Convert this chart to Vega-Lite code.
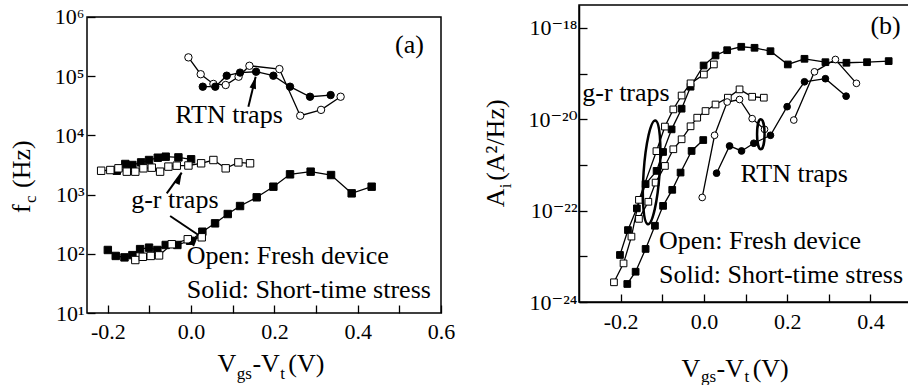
{
  "$schema": "https://vega.github.io/schema/vega-lite/v6.json",
  "background": "white",
  "padding": {"left": 9, "top": 4, "right": 0, "bottom": 0},
  "spacing": 27,
  "resolve": {"scale": {"x": "independent", "y": "independent"}},
  "config": {
    "font": "Liberation Serif",
    "view": {"stroke": "black", "strokeWidth": 1.5},
    "text": {"color": "black", "font": "Liberation Serif, DejaVu Serif"},
    "axis": {
      "labelFont": "Liberation Serif, DejaVu Serif", "labelFontSize": 22, "labelColor": "black",
      "tickSize": -8, "tickColor": "black", "tickWidth": 1.3,
      "domainColor": "black", "domainWidth": 1.5, "grid": false,
      "labelFlush": false, "labelOverlap": false, "labelBound": false
    }
  },
  "datasets": {
    "a_pts": [
      {"s":"rf","trap":"RTN","dev":"Fresh","x":-0.0065,"y":208000},
      {"s":"rf","trap":"RTN","dev":"Fresh","x":0.023,"y":108000},
      {"s":"rf","trap":"RTN","dev":"Fresh","x":0.0535,"y":74000},
      {"s":"rf","trap":"RTN","dev":"Fresh","x":0.083,"y":71000},
      {"s":"rf","trap":"RTN","dev":"Fresh","x":0.114,"y":98000},
      {"s":"rf","trap":"RTN","dev":"Fresh","x":0.140,"y":150000},
      {"s":"rf","trap":"RTN","dev":"Fresh","x":0.212,"y":132000},
      {"s":"rf","trap":"RTN","dev":"Fresh","x":0.262,"y":21500},
      {"s":"rf","trap":"RTN","dev":"Fresh","x":0.312,"y":27000},
      {"s":"rf","trap":"RTN","dev":"Fresh","x":0.359,"y":45000},
      {"s":"rs","trap":"RTN","dev":"Stress","x":0.028,"y":66500},
      {"s":"rs","trap":"RTN","dev":"Stress","x":0.058,"y":66500},
      {"s":"rs","trap":"RTN","dev":"Stress","x":0.0855,"y":102000},
      {"s":"rs","trap":"RTN","dev":"Stress","x":0.1175,"y":115000},
      {"s":"rs","trap":"RTN","dev":"Stress","x":0.156,"y":119000},
      {"s":"rs","trap":"RTN","dev":"Stress","x":0.1975,"y":102000},
      {"s":"rs","trap":"RTN","dev":"Stress","x":0.2375,"y":66500},
      {"s":"rs","trap":"RTN","dev":"Stress","x":0.2855,"y":45000},
      {"s":"rs","trap":"RTN","dev":"Stress","x":0.335,"y":48000},
      {"s":"g1s","trap":"g-r","dev":"Stress","x":-0.1785,"y":2530},
      {"s":"g1s","trap":"g-r","dev":"Stress","x":-0.158,"y":3290},
      {"s":"g1s","trap":"g-r","dev":"Stress","x":-0.141,"y":3160},
      {"s":"g1s","trap":"g-r","dev":"Stress","x":-0.12,"y":3500},
      {"s":"g1s","trap":"g-r","dev":"Stress","x":-0.101,"y":3840},
      {"s":"g1s","trap":"g-r","dev":"Stress","x":-0.080,"y":4200},
      {"s":"g1s","trap":"g-r","dev":"Stress","x":-0.061,"y":4370},
      {"s":"g1s","trap":"g-r","dev":"Stress","x":-0.0305,"y":4250},
      {"s":"g1s","trap":"g-r","dev":"Stress","x":0.0,"y":3950},
      {"s":"g1f","trap":"g-r","dev":"Fresh","x":-0.216,"y":2530},
      {"s":"g1f","trap":"g-r","dev":"Fresh","x":-0.194,"y":2600},
      {"s":"g1f","trap":"g-r","dev":"Fresh","x":-0.1745,"y":2780},
      {"s":"g1f","trap":"g-r","dev":"Fresh","x":-0.1545,"y":2440},
      {"s":"g1f","trap":"g-r","dev":"Fresh","x":-0.134,"y":2440},
      {"s":"g1f","trap":"g-r","dev":"Fresh","x":-0.1145,"y":2780},
      {"s":"g1f","trap":"g-r","dev":"Fresh","x":-0.0945,"y":2850},
      {"s":"g1f","trap":"g-r","dev":"Fresh","x":-0.0745,"y":2440},
      {"s":"g1f","trap":"g-r","dev":"Fresh","x":-0.0545,"y":2970},
      {"s":"g1f","trap":"g-r","dev":"Fresh","x":-0.0345,"y":3080},
      {"s":"g1f","trap":"g-r","dev":"Fresh","x":-0.0065,"y":3100},
      {"s":"g1f","trap":"g-r","dev":"Fresh","x":0.024,"y":3380},
      {"s":"g1f","trap":"g-r","dev":"Fresh","x":0.0535,"y":3840},
      {"s":"g1f","trap":"g-r","dev":"Fresh","x":0.083,"y":2780},
      {"s":"g1f","trap":"g-r","dev":"Fresh","x":0.1135,"y":3500},
      {"s":"g1f","trap":"g-r","dev":"Fresh","x":0.1415,"y":3380},
      {"s":"g2s","trap":"g-r","dev":"Stress","x":-0.2,"y":116},
      {"s":"g2s","trap":"g-r","dev":"Stress","x":-0.181,"y":92},
      {"s":"g2s","trap":"g-r","dev":"Stress","x":-0.16,"y":87},
      {"s":"g2s","trap":"g-r","dev":"Stress","x":-0.141,"y":95},
      {"s":"g2s","trap":"g-r","dev":"Stress","x":-0.1225,"y":120},
      {"s":"g2s","trap":"g-r","dev":"Stress","x":-0.101,"y":127},
      {"s":"g2s","trap":"g-r","dev":"Stress","x":-0.081,"y":116},
      {"s":"g2s","trap":"g-r","dev":"Stress","x":-0.061,"y":141},
      {"s":"g2s","trap":"g-r","dev":"Stress","x":-0.033,"y":141},
      {"s":"g2s","trap":"g-r","dev":"Stress","x":-0.0025,"y":166},
      {"s":"g2s","trap":"g-r","dev":"Stress","x":0.027,"y":236},
      {"s":"g2s","trap":"g-r","dev":"Stress","x":0.0575,"y":327},
      {"s":"g2s","trap":"g-r","dev":"Stress","x":0.088,"y":470},
      {"s":"g2s","trap":"g-r","dev":"Stress","x":0.1175,"y":641},
      {"s":"g2s","trap":"g-r","dev":"Stress","x":0.1575,"y":900},
      {"s":"g2s","trap":"g-r","dev":"Stress","x":0.1975,"y":1360},
      {"s":"g2s","trap":"g-r","dev":"Stress","x":0.2375,"y":2200},
      {"s":"g2s","trap":"g-r","dev":"Stress","x":0.287,"y":2440},
      {"s":"g2s","trap":"g-r","dev":"Stress","x":0.336,"y":2140},
      {"s":"g2s","trap":"g-r","dev":"Stress","x":0.3855,"y":1050},
      {"s":"g2s","trap":"g-r","dev":"Stress","x":0.4335,"y":1360},
      {"s":"g2f","trap":"g-r","dev":"Fresh","x":-0.134,"y":78.5},
      {"s":"g2f","trap":"g-r","dev":"Fresh","x":-0.116,"y":89},
      {"s":"g2f","trap":"g-r","dev":"Fresh","x":-0.097,"y":92},
      {"s":"g2f","trap":"g-r","dev":"Fresh","x":-0.077,"y":94},
      {"s":"g2f","trap":"g-r","dev":"Fresh","x":-0.0465,"y":145},
      {"s":"g2f","trap":"g-r","dev":"Fresh","x":-0.008,"y":176},
      {"s":"g2f","trap":"g-r","dev":"Fresh","x":0.0255,"y":190}
    ],
    "a_txt": [
      {"t":"RTN traps","x":-0.038,"y":16000},
      {"t":"g-r traps","x":-0.144,"y":587},
      {"t":"Open: Fresh device","x":-0.0105,"y":67.3},
      {"t":"Solid: Short-time stress","x":-0.0105,"y":17.7},
      {"t":"(a)","x":0.4896,"y":244000}
    ],
    "a_arr": [
      {"name":"rtn","x":0.155,"y":98000,"x0":0.1375,"y0":30500},
      {"name":"gr1","x":-0.0226,"y":2344,"x0":-0.0585,"y0":1052},
      {"name":"gr2","x":0.0175,"y":208,"x0":-0.0504,"y0":435}
    ],
    "a_title": [
      {"t":"V","kind":"xmain","x":0.0631,"y":1.02},
      {"t":"-V","kind":"xmain","x":0.1471,"y":1.02},
      {"t":"(V)","kind":"xmain","x":0.2335,"y":1.02},
      {"t":"gs","kind":"xsub","x":0.1094,"y":0.76},
      {"t":"t","kind":"xsub","x":0.2138,"y":0.76},
      {"t":"f","kind":"ymain","x":-0.3864,"y":489},
      {"t":"(Hz)","kind":"ymain","x":-0.3864,"y":1291},
      {"t":"c","kind":"ysub","x":-0.3713,"y":721}
    ],
    "b_pts": [
      {"s":"g1s","trap":"g-r","dev":"Stress","x":-0.2016,"y":1.07e-23},
      {"s":"g1s","trap":"g-r","dev":"Stress","x":-0.1824,"y":3.75e-23},
      {"s":"g1s","trap":"g-r","dev":"Stress","x":-0.161,"y":1.12e-22},
      {"s":"g1s","trap":"g-r","dev":"Stress","x":-0.14,"y":3.8e-22},
      {"s":"g1s","trap":"g-r","dev":"Stress","x":-0.1136,"y":7.4e-22},
      {"s":"g1s","trap":"g-r","dev":"Stress","x":-0.098,"y":1.92e-21},
      {"s":"g1s","trap":"g-r","dev":"Stress","x":-0.0775,"y":6e-21},
      {"s":"g1s","trap":"g-r","dev":"Stress","x":-0.0535,"y":1.7e-20},
      {"s":"g1s","trap":"g-r","dev":"Stress","x":-0.032,"y":5.15e-20},
      {"s":"g1s","trap":"g-r","dev":"Stress","x":-0.0007,"y":1.5e-19},
      {"s":"g1s","trap":"g-r","dev":"Stress","x":0.028,"y":2.48e-19},
      {"s":"g1s","trap":"g-r","dev":"Stress","x":0.056,"y":3.24e-19},
      {"s":"g1s","trap":"g-r","dev":"Stress","x":0.0898,"y":3.85e-19},
      {"s":"g1s","trap":"g-r","dev":"Stress","x":0.1217,"y":3.66e-19},
      {"s":"g1s","trap":"g-r","dev":"Stress","x":0.16,"y":3.08e-19},
      {"s":"g1s","trap":"g-r","dev":"Stress","x":0.2016,"y":1.58e-19},
      {"s":"g1s","trap":"g-r","dev":"Stress","x":0.2417,"y":2.1e-19},
      {"s":"g1s","trap":"g-r","dev":"Stress","x":0.292,"y":1.77e-19},
      {"s":"g1s","trap":"g-r","dev":"Stress","x":0.3425,"y":1.72e-19},
      {"s":"g1s","trap":"g-r","dev":"Stress","x":0.392,"y":1.77e-19},
      {"s":"g1s","trap":"g-r","dev":"Stress","x":0.444,"y":1.87e-19},
      {"s":"g2s","trap":"g-r","dev":"Stress","x":-0.184,"y":2.48e-24},
      {"s":"g2s","trap":"g-r","dev":"Stress","x":-0.164,"y":4.6e-24},
      {"s":"g2s","trap":"g-r","dev":"Stress","x":-0.140,"y":1.45e-23},
      {"s":"g2s","trap":"g-r","dev":"Stress","x":-0.1176,"y":4.66e-23},
      {"s":"g2s","trap":"g-r","dev":"Stress","x":-0.098,"y":1.27e-22},
      {"s":"g2s","trap":"g-r","dev":"Stress","x":-0.076,"y":2.85e-22},
      {"s":"g2s","trap":"g-r","dev":"Stress","x":-0.056,"y":6.8e-22},
      {"s":"g2s","trap":"g-r","dev":"Stress","x":-0.0295,"y":2.02e-21},
      {"s":"g2s","trap":"g-r","dev":"Stress","x":-0.0015,"y":3.5e-21},
      {"s":"rs","trap":"RTN","dev":"Stress","x":0.0305,"y":6.6e-22},
      {"s":"rs","trap":"RTN","dev":"Stress","x":0.0617,"y":2.6e-21},
      {"s":"rs","trap":"RTN","dev":"Stress","x":0.0905,"y":2.02e-21},
      {"s":"rs","trap":"RTN","dev":"Stress","x":0.12,"y":2.98e-21},
      {"s":"rs","trap":"RTN","dev":"Stress","x":0.16,"y":4.45e-21},
      {"s":"rs","trap":"RTN","dev":"Stress","x":0.2,"y":1.88e-20},
      {"s":"rs","trap":"RTN","dev":"Stress","x":0.2417,"y":6.6e-20},
      {"s":"rs","trap":"RTN","dev":"Stress","x":0.292,"y":7.7e-20},
      {"s":"rs","trap":"RTN","dev":"Stress","x":0.3417,"y":3.2e-20},
      {"s":"g1f","trap":"g-r","dev":"Fresh","x":-0.216,"y":2.7e-24},
      {"s":"g1f","trap":"g-r","dev":"Fresh","x":-0.193,"y":7.0e-24},
      {"s":"g1f","trap":"g-r","dev":"Fresh","x":-0.174,"y":2.7e-23},
      {"s":"g1f","trap":"g-r","dev":"Fresh","x":-0.156,"y":1.72e-22},
      {"s":"g1f","trap":"g-r","dev":"Fresh","x":-0.114,"y":2.0e-21},
      {"s":"g1f","trap":"g-r","dev":"Fresh","x":-0.0936,"y":6.9e-21},
      {"s":"g1f","trap":"g-r","dev":"Fresh","x":-0.0734,"y":1.64e-20},
      {"s":"g1f","trap":"g-r","dev":"Fresh","x":-0.0535,"y":3.3e-20},
      {"s":"g1f","trap":"g-r","dev":"Fresh","x":-0.032,"y":6.1e-20},
      {"s":"g1f","trap":"g-r","dev":"Fresh","x":0.0,"y":9.5e-20},
      {"s":"g1f","trap":"g-r","dev":"Fresh","x":0.024,"y":1.58e-19},
      {"s":"g2f","trap":"g-r","dev":"Fresh","x":-0.156,"y":6.6e-23},
      {"s":"g2f","trap":"g-r","dev":"Fresh","x":-0.1334,"y":1.56e-22},
      {"s":"g2f","trap":"g-r","dev":"Fresh","x":-0.116,"y":4.1e-22},
      {"s":"g2f","trap":"g-r","dev":"Fresh","x":-0.0936,"y":9.5e-22},
      {"s":"g2f","trap":"g-r","dev":"Fresh","x":-0.0734,"y":2.2e-21},
      {"s":"g2f","trap":"g-r","dev":"Fresh","x":-0.0535,"y":3.64e-21},
      {"s":"g2f","trap":"g-r","dev":"Fresh","x":-0.032,"y":7e-21},
      {"s":"g2f","trap":"g-r","dev":"Fresh","x":-0.016,"y":1.08e-20},
      {"s":"g2f","trap":"g-r","dev":"Fresh","x":0.004,"y":1.51e-20},
      {"s":"g2f","trap":"g-r","dev":"Fresh","x":0.028,"y":2.1e-20},
      {"s":"g2f","trap":"g-r","dev":"Fresh","x":0.0576,"y":2.96e-20},
      {"s":"g2f","trap":"g-r","dev":"Fresh","x":0.0857,"y":4.5e-20},
      {"s":"g2f","trap":"g-r","dev":"Fresh","x":0.116,"y":3.1e-20},
      {"s":"g2f","trap":"g-r","dev":"Fresh","x":0.144,"y":2.96e-20},
      {"s":"r1f","trap":"RTN","dev":"Fresh","x":-0.004,"y":1.94e-22},
      {"s":"r1f","trap":"RTN","dev":"Fresh","x":0.0257,"y":4.45e-21},
      {"s":"r1f","trap":"RTN","dev":"Fresh","x":0.056,"y":2.38e-20},
      {"s":"r1f","trap":"RTN","dev":"Fresh","x":0.0857,"y":2.7e-20},
      {"s":"r1f","trap":"RTN","dev":"Fresh","x":0.116,"y":1.03e-20},
      {"s":"r1f","trap":"RTN","dev":"Fresh","x":0.1457,"y":6e-21},
      {"s":"r2f","trap":"RTN","dev":"Fresh","x":0.216,"y":9.6e-21},
      {"s":"r2f","trap":"RTN","dev":"Fresh","x":0.2657,"y":1.09e-19},
      {"s":"r2f","trap":"RTN","dev":"Fresh","x":0.316,"y":2.03e-19},
      {"s":"r2f","trap":"RTN","dev":"Fresh","x":0.3665,"y":6.1e-20}
    ],
    "b_txt": [
      {"t":"g-r traps","x":-0.292,"y":2.49e-20},
      {"t":"RTN traps","x":0.088,"y":4.13e-22},
      {"t":"Open: Fresh device","x":-0.108,"y":1.44e-23},
      {"t":"Solid: Short-time stress","x":-0.108,"y":2.6e-24},
      {"t":"(b)","x":0.4,"y":7.4e-19}
    ],
    "b_title": [
      {"t":"V","kind":"xmain","x":-0.0535,"y":2.34e-26},
      {"t":"-V","kind":"xmain","x":0.0305,"y":2.34e-26},
      {"t":"(V)","kind":"xmain","x":0.1172,"y":2.34e-26},
      {"t":"gs","kind":"xsub","x":-0.0072,"y":1.82e-26},
      {"t":"t","kind":"xsub","x":0.0974,"y":1.82e-26},
      {"t":"A","kind":"ymain","x":-0.48,"y":1.19e-22},
      {"t":"(A²/Hz)","kind":"ymain","x":-0.48,"y":4.48e-22},
      {"t":"i","kind":"ysub","x":-0.464,"y":3.1e-22}
    ]
  },
  "hconcat": [
    {
      "width": 354,
      "height": 308,
      "view": {"stroke": null},
      "encoding": {
        "x": {"field": "x", "type": "quantitative",
          "scale": {"domain": [-0.25, 0.6], "nice": false, "zero": false},
          "axis": {"title": null, "domain": false, "values": [-0.2,-0.1,0,0.1,0.2,0.3,0.4,0.5,0.6], "labelPadding": 16,
            "labelExpr": "abs(round(datum.value*10)) % 2 == 0 ? replace(format(datum.value, '.1f'), '−', '-') : ''"}},
        "y": {"field": "y", "type": "quantitative",
          "scale": {"type": "log", "domain": [10, 1594700], "nice": false},
          "axis": {"title": null, "domain": false, "values": [10,100,1000,10000,100000,1000000], "labelPadding": 11,
            "labelExpr": "'10' + substring('⁰¹²³⁴⁵⁶⁷⁸⁹', round(log(datum.value)/LN10), round(log(datum.value)/LN10) + 1)"}}
      },
      "layer": [
        {"data": {"values": [{"x": -0.25, "x0": 0.6, "y": 10, "y0": 1000000}]},
          "mark": {"type": "rect", "filled": false, "stroke": "black", "strokeWidth": 1.5},
          "encoding": {"x2": {"field": "x0"}, "y2": {"field": "y0"}}},
        {"data": {"name": "a_pts"}, "mark": {"type": "line", "color": "black", "strokeWidth": 1.3},
          "encoding": {"detail": {"field": "s"}}},
        {"data": {"name": "a_pts"}, "mark": {"type": "point", "filled": true, "stroke": "black", "strokeWidth": 1, "size": 55, "opacity": 1},
          "encoding": {
            "shape": {"field": "trap", "type": "nominal", "scale": {"domain": ["RTN","g-r"], "range": ["circle","square"]}, "legend": null},
            "fill": {"field": "dev", "type": "nominal", "scale": {"domain": ["Fresh","Stress"], "range": ["white","black"]}, "legend": null}}},
        {"data": {"name": "a_arr"}, "mark": {"type": "rule", "color": "black", "strokeWidth": 2},
          "encoding": {"x2": {"field": "x0"}, "y2": {"field": "y0"}}},
        {"data": {"name": "a_arr"}, "mark": {"type": "point", "shape": "M0,0 L0.55,2 L-0.55,2 Z", "filled": true, "color": "black", "size": 144, "opacity": 1},
          "encoding": {"angle": {"field": "name", "type": "nominal", "scale": {"domain": ["rtn","gr1","gr2"], "range": [14, 36, 124]}, "legend": null}}},
        {"data": {"name": "a_txt"}, "mark": {"type": "text", "align": "left", "baseline": "alphabetic", "fontSize": 26},
          "encoding": {"text": {"field": "t"}}},
        {"data": {"name": "a_title"}, "transform": [{"filter": "datum.kind == 'xmain'"}],
          "mark": {"type": "text", "align": "left", "baseline": "alphabetic", "fontSize": 26},
          "encoding": {"text": {"field": "t"}}},
        {"data": {"name": "a_title"}, "transform": [{"filter": "datum.kind == 'xsub'"}],
          "mark": {"type": "text", "align": "left", "baseline": "alphabetic", "fontSize": 17},
          "encoding": {"text": {"field": "t"}}},
        {"data": {"name": "a_title"}, "transform": [{"filter": "datum.kind == 'ymain'"}],
          "mark": {"type": "text", "align": "left", "baseline": "alphabetic", "fontSize": 26, "angle": 270},
          "encoding": {"text": {"field": "t"}}},
        {"data": {"name": "a_title"}, "transform": [{"filter": "datum.kind == 'ysub'"}],
          "mark": {"type": "text", "align": "left", "baseline": "alphabetic", "fontSize": 17, "angle": 270},
          "encoding": {"text": {"field": "t"}}}
      ]
    },
    {
      "width": 333,
      "height": 297,
      "encoding": {
        "x": {"field": "x", "type": "quantitative",
          "scale": {"domain": [-0.3, 0.5], "nice": false, "zero": false},
          "axis": {"title": null, "values": [-0.2,-0.1,0,0.1,0.2,0.3,0.4], "labelPadding": 17,
            "labelExpr": "abs(round(datum.value*10)) % 2 == 0 ? replace(format(datum.value, '.1f'), '−', '-') : ''"}},
        "y": {"field": "y", "type": "quantitative",
          "scale": {"type": "log", "domain": [1e-24, 3.16e-18], "nice": false},
          "axis": {"title": null, "values": [1e-24,1e-23,1e-22,1e-21,1e-20,1e-19,1e-18], "labelPadding": 10,
            "labelExpr": "round(-log(datum.value)/LN10) % 2 == 0 ? '10⁻' + substring('⁰¹²³⁴⁵⁶⁷⁸⁹', floor(round(-log(datum.value)/LN10)/10), floor(round(-log(datum.value)/LN10)/10) + 1) + substring('⁰¹²³⁴⁵⁶⁷⁸⁹', round(-log(datum.value)/LN10) % 10, round(-log(datum.value)/LN10) % 10 + 1) : ''"}}
      },
      "layer": [
        {"data": {"name": "b_pts"}, "mark": {"type": "line", "color": "black", "strokeWidth": 1.3},
          "encoding": {"detail": {"field": "s"}}},
        {"data": {"name": "b_pts"}, "mark": {"type": "point", "filled": true, "stroke": "black", "strokeWidth": 1, "size": 45, "opacity": 1},
          "encoding": {
            "shape": {"field": "trap", "type": "nominal", "scale": {"domain": ["RTN","g-r"], "range": ["circle","square"]}, "legend": null},
            "fill": {"field": "dev", "type": "nominal", "scale": {"domain": ["Fresh","Stress"], "range": ["white","black"]}, "legend": null}}},
        {"data": {"values": [{"x": -0.1255, "y": 6.9e-22}]},
          "mark": {"type": "point", "shape": "M0,-1 C0.085,-1 0.154,-0.552 0.154,0 C0.154,0.552 0.085,1 0,1 C-0.085,1 -0.154,0.552 -0.154,0 C-0.154,-0.552 -0.085,-1 0,-1 Z", "filled": false, "stroke": "black", "strokeWidth": 2.5, "size": 10816, "angle": 4, "opacity": 1}},
        {"data": {"values": [{"x": 0.1368, "y": 4.68e-21}]},
          "mark": {"type": "point", "shape": "M0,-1 C0.14,-1 0.25,-0.552 0.25,0 C0.25,0.552 0.14,1 0,1 C-0.14,1 -0.25,0.552 -0.25,0 C-0.25,-0.552 -0.14,-1 0,-1 Z", "filled": false, "stroke": "black", "strokeWidth": 2.5, "size": 900, "opacity": 1}},
        {"data": {"name": "b_txt"}, "mark": {"type": "text", "align": "left", "baseline": "alphabetic", "fontSize": 26},
          "encoding": {"text": {"field": "t"}}},
        {"data": {"name": "b_title"}, "transform": [{"filter": "datum.kind == 'xmain'"}],
          "mark": {"type": "text", "align": "left", "baseline": "alphabetic", "fontSize": 26},
          "encoding": {"text": {"field": "t"}}},
        {"data": {"name": "b_title"}, "transform": [{"filter": "datum.kind == 'xsub'"}],
          "mark": {"type": "text", "align": "left", "baseline": "alphabetic", "fontSize": 17},
          "encoding": {"text": {"field": "t"}}},
        {"data": {"name": "b_title"}, "transform": [{"filter": "datum.kind == 'ymain'"}],
          "mark": {"type": "text", "align": "left", "baseline": "alphabetic", "fontSize": 26, "angle": 270},
          "encoding": {"text": {"field": "t"}}},
        {"data": {"name": "b_title"}, "transform": [{"filter": "datum.kind == 'ysub'"}],
          "mark": {"type": "text", "align": "left", "baseline": "alphabetic", "fontSize": 17, "angle": 270},
          "encoding": {"text": {"field": "t"}}}
      ]
    }
  ]
}
